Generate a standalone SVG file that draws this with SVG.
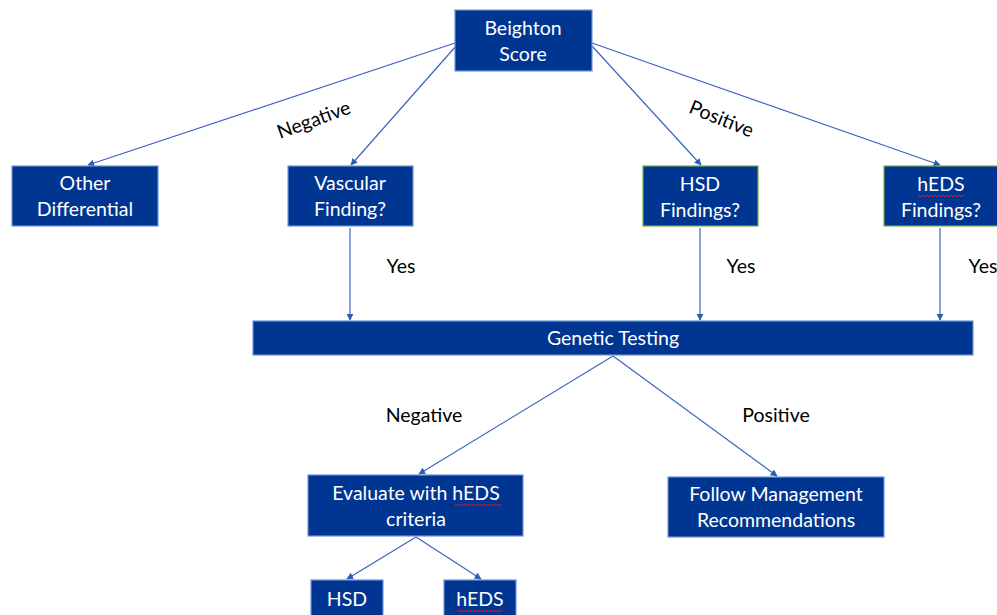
<svg xmlns="http://www.w3.org/2000/svg" width="997" height="615" viewBox="0 0 997 615">
  <defs>
    <marker id="arrow" viewBox="0 0 10 10" refX="9" refY="5" markerWidth="7" markerHeight="7" orient="auto" markerUnits="userSpaceOnUse">
      <path d="M0,0 L10,5 L0,10 z" fill="#2F5BB7"/>
    </marker>
    <path id="squiggle" d="M0,0 q1,-2 2,0 t2,0 t2,0 t2,0 t2,0 t2,0 t2,0 t2,0 t2,0 t2,0 t2,0 t2,0 t2,0 t2,0 t2,0 t2,0 t2,0 t2,0 t2,0 t2,0 t2,0 t2,0 t2,0"/>
  </defs>
  <style>
    .box { fill: #003591; stroke: #6F93D3; stroke-width: 1.2; }
    .box-green { fill: #003591; stroke: #70AD47; stroke-width: 1.2; }
    .label { font-family: Lato, "Open Sans", "Liberation Sans", sans-serif; font-size: 19.5px; fill: #FFFFFF; text-anchor: middle; }
    .edge-label { font-family: Lato, "Open Sans", "Liberation Sans", sans-serif; font-size: 19.5px; fill: #000000; text-anchor: middle; }
    .edge { stroke: #3A66C0; stroke-width: 1.2; fill: none; }
    .spell { stroke: #D62020; stroke-width: 1; fill: none; }
  </style>
  <rect width="997" height="615" fill="#FFFFFF"/>

  <!-- connectors -->
  <g id="connectors">
    <line class="edge" x1="455" y1="43" x2="88" y2="165" marker-end="url(#arrow)"/>
    <line class="edge" x1="456" y1="46" x2="351" y2="165" marker-end="url(#arrow)"/>
    <line class="edge" x1="592" y1="46" x2="701" y2="165" marker-end="url(#arrow)"/>
    <line class="edge" x1="592" y1="43" x2="940" y2="165" marker-end="url(#arrow)"/>
    <line class="edge" x1="350" y1="228" x2="350" y2="320" marker-end="url(#arrow)"/>
    <line class="edge" x1="700" y1="228" x2="700" y2="320" marker-end="url(#arrow)"/>
    <line class="edge" x1="940" y1="228" x2="940" y2="320" marker-end="url(#arrow)"/>
    <line class="edge" x1="613" y1="356" x2="419" y2="474" marker-end="url(#arrow)"/>
    <line class="edge" x1="613" y1="356" x2="777" y2="476" marker-end="url(#arrow)"/>
    <line class="edge" x1="416" y1="537" x2="347" y2="579" marker-end="url(#arrow)"/>
    <line class="edge" x1="416" y1="537" x2="481" y2="579" marker-end="url(#arrow)"/>
    <text class="edge-label" transform="translate(316,126) rotate(-20)">Negative</text>
    <text class="edge-label" transform="translate(719,125) rotate(22)">Positive</text>
    <text class="edge-label" x="401" y="273">Yes</text>
    <text class="edge-label" x="741" y="273">Yes</text>
    <text class="edge-label" x="983" y="273">Yes</text>
    <text class="edge-label" x="424" y="422">Negative</text>
    <text class="edge-label" x="776" y="422">Positive</text>
  </g>

  <g id="beighton">
    <rect class="box" x="455" y="10" width="137" height="61"/>
    <text class="label" x="523" y="35">Beighton</text>
    <text class="label" x="523" y="61">Score</text>
  </g>

  <g id="other-differential">
    <rect class="box" x="12" y="166" width="146" height="60"/>
    <text class="label" x="85" y="190">Other</text>
    <text class="label" x="85" y="216">Differential</text>
  </g>

  <g id="vascular">
    <rect class="box" x="288" y="166" width="125" height="60"/>
    <text class="label" x="350" y="190">Vascular</text>
    <text class="label" x="350" y="216">Finding?</text>
  </g>

  <g id="hsd-findings">
    <rect class="box-green" x="643" y="166" width="115" height="60"/>
    <text class="label" x="700" y="191">HSD</text>
    <text class="label" x="700" y="217">Findings?</text>
  </g>

  <g id="heds-findings">
    <rect class="box-green" x="884" y="166" width="120" height="60"/>
    <text class="label" x="941" y="191">hEDS</text>
    <text class="label" x="941" y="217">Findings?</text>
    <use href="#squiggle" class="spell" transform="translate(918,196)"/>
  </g>

  <g id="genetic-testing">
    <rect class="box" x="253" y="321" width="720" height="34"/>
    <text class="label" x="613" y="345">Genetic Testing</text>
  </g>

  <g id="evaluate">
    <rect class="box" x="308" y="475" width="215" height="61"/>
    <text class="label" x="416" y="500">Evaluate with hEDS</text>
    <text class="label" x="416" y="526">criteria</text>
    <use href="#squiggle" class="spell" transform="translate(455,505)"/>
  </g>

  <g id="follow-management">
    <rect class="box" x="668" y="477" width="216" height="60"/>
    <text class="label" x="776" y="501">Follow Management</text>
    <text class="label" x="776" y="527">Recommendations</text>
  </g>

  <g id="hsd">
    <rect class="box" x="311" y="580" width="72" height="40"/>
    <text class="label" x="347" y="606">HSD</text>
  </g>

  <g id="heds">
    <rect class="box" x="444" y="580" width="72" height="40"/>
    <text class="label" x="480" y="606">hEDS</text>
    <use href="#squiggle" class="spell" transform="translate(457,611)"/>
  </g>
</svg>
